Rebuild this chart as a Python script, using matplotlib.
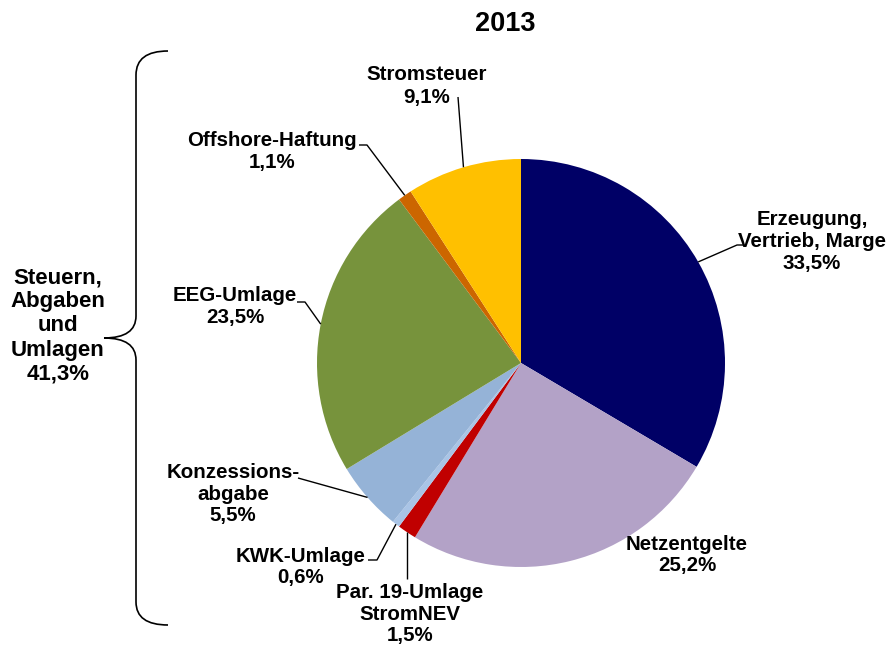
import matplotlib
matplotlib.use('Agg')
import numpy as np
import matplotlib.pyplot as plt
from matplotlib.path import Path
from matplotlib.patches import PathPatch

# data
labels = ['Erzeugung,\nVertrieb, Marge', 'Netzentgelte', 'Par. 19-Umlage\nStromNEV',
          'KWK-Umlage', 'Konzessions-\nabgabe', 'EEG-Umlage', 'Offshore-Haftung', 'Stromsteuer']
shares = [33.5, 25.2, 1.5, 0.6, 5.5, 23.5, 1.1, 9.1]
colors = ['#000066', '#B3A2C7', '#C00000', '#A9C4E6', '#95B3D7', '#77933C', '#CC6600', '#FFC000']
year = '2013'
group_label = 'Steuern,\nAbgaben\nund\nUmlagen'
group_share = 41.3

W, H = 895, 646
cx, cy, r = 521, 363, 204

def py(y):
  # pixel y (top down) -> data y
  return H - y

# label centres in pixels, and leader points from the label side (edge point is added)
label_pos = [(812, 242), (687, 555), (410, 614), (301, 567), (233, 494), (235, 307), (272, 152), (427, 86)]
leaders = [[(743, 245), (737, 245)], None, ['vert', 579], [(368, 560), (377, 560)],
           [(298, 478)], [(297, 302), (305, 302)], [(359, 145), (367, 145)], [(458, 97)]]

plt.rcParams['font.family'] = ['Liberation Sans', 'DejaVu Sans']
fig = plt.figure(figsize=(W / 100, H / 100), dpi=100)
ax = fig.add_axes([0, 0, 1, 1])

wedges, _ = ax.pie(shares, colors=colors, startangle=90, counterclock=False,
                   center=(cx, py(cy)), radius=r, frame=True,
                   wedgeprops=dict(linewidth=0))
ax.set_xlim(0, W)
ax.set_ylim(0, H)
ax.set_aspect('equal')
ax.axis('off')

for w, lab, s, pos, ld in zip(wedges, labels, shares, label_pos, leaders):
  txt = lab + '\n' + f'{s:.1f}%'.replace('.', ',')
  ax.text(pos[0], py(pos[1]), txt, ha='center', va='center', fontsize=14.8,
          fontweight='bold', linespacing=1.2)
  if ld is None:
    continue
  mid = np.deg2rad((w.theta1 + w.theta2) / 2)
  ex = cx + r * np.cos(mid)
  ey = py(cy) + r * np.sin(mid)
  if ld[0] == 'vert':
    xs, ys = [ex, ex], [py(ld[1]), ey]
  else:
    xs = [p[0] for p in ld] + [ex]
    ys = [py(p[1]) for p in ld] + [ey]
  ax.plot(xs, ys, color='black', lw=1.0, solid_capstyle='butt')

ax.text(505, py(24), year, ha='center', va='center', fontsize=19.5, fontweight='bold')

group_txt = group_label + '\n' + f'{group_share:.1f}%'.replace('.', ',')
ax.text(58, py(326), group_txt, ha='center', va='center', fontsize=16,
        fontweight='bold', linespacing=1.2)

# curly brace
verts = [(168, 51), (136, 51), (136, 75), (136, 316), (136, 338), (104, 338),
         (136, 338), (136, 360), (136, 602), (136, 625), (168, 625)]
codes = [Path.MOVETO, Path.CURVE3, Path.CURVE3, Path.LINETO, Path.CURVE3, Path.CURVE3,
         Path.CURVE3, Path.CURVE3, Path.LINETO, Path.CURVE3, Path.CURVE3]
brace = Path([(x, py(y)) for x, y in verts], codes)
ax.add_patch(PathPatch(brace, facecolor='none', edgecolor='black', lw=1.2))

fig.savefig('out.png', dpi=100)
